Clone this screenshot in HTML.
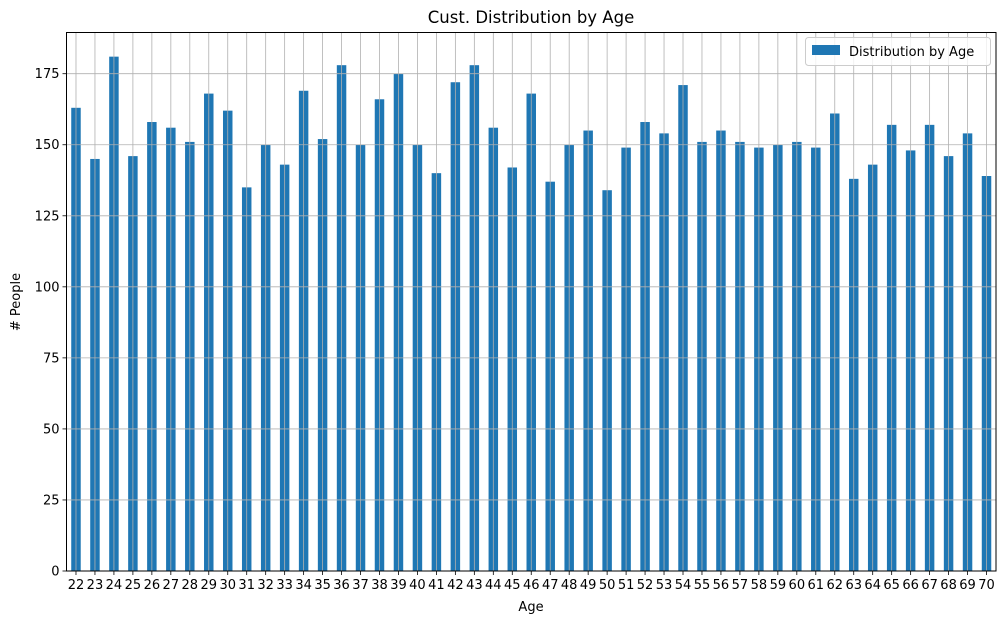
<!DOCTYPE html>
<html><head><meta charset="utf-8"><style>
body{margin:0;background:#fff;}
svg text{font-family:"DejaVu Sans","Liberation Sans",sans-serif;fill:#000;}
</style></head><body>
<svg id="chart" width="1005" height="624" xmlns="http://www.w3.org/2000/svg">
<text x="531" y="23" font-size="16.5" text-anchor="middle">Cust. Distribution by Age</text>
<text x="531" y="611" font-size="13" text-anchor="middle">Age</text>
<text transform="translate(20,302) rotate(-90)" font-size="13" text-anchor="middle"># People</text>
<g id="bars"></g>
<g id="grid"></g>
<g id="ticks"></g>
<rect x="66.5" y="32.5" width="929.5" height="538.5" fill="none" stroke="#000" stroke-width="1"/>
<g>
<rect x="805.5" y="37.5" width="185" height="28" rx="3" fill="#fff" fill-opacity="0.8" stroke="#ccc"/>
<rect x="812" y="45" width="28" height="10" fill="#1f77b4"/>
<text x="849" y="56" font-size="13">Distribution by Age</text>
</g>
</svg>
<script>
const ages=[22,23,24,25,26,27,28,29,30,31,32,33,34,35,36,37,38,39,40,41,42,43,44,45,46,47,48,49,50,51,52,53,54,55,56,57,58,59,60,61,62,63,64,65,66,67,68,69,70];
const counts=[163,145,181,146,158,156,151,168,162,135,150,143,169,152,178,150,166,175,150,140,172,178,156,142,168,137,150,155,134,149,158,154,171,151,155,151,149,150,151,149,161,138,143,157,148,157,146,154,139];
const yTicks=[0,25,50,75,100,125,150,175];
const NS="http://www.w3.org/2000/svg";
const L=66.5,R=996,T=32.5,B=571,yMax=189.5;
const step=(R-L)/ages.length;
const xc=i=>L+step*(i+0.5);
const y=v=>B-(v/yMax)*(B-T);
const bars=document.getElementById('bars'),grid=document.getElementById('grid'),ticks=document.getElementById('ticks');
function mk(tag,attrs,parent){const e=document.createElementNS(NS,tag);for(const k in attrs)e.setAttribute(k,attrs[k]);parent.appendChild(e);return e;}
counts.forEach((v,i)=>{
 const r=mk('rect',{x:xc(i)-step/4,y:y(v),width:step/2,height:B-y(v),fill:'#1f77b4'},bars);
 
 
 const g=mk('line',{x1:xc(i),x2:xc(i),y1:T,y2:B,stroke:'#b0b0b0','stroke-width':0.8},grid);
 
 
 const t=mk('line',{x1:xc(i),x2:xc(i),y1:B,y2:B+4,stroke:'#000','stroke-width':0.8},ticks);
 
 
 const tx=mk('text',{x:xc(i),y:B+18,'font-size':13,'text-anchor':'middle'},ticks);
 tx.textContent=ages[i];
 
 
});
yTicks.forEach(v=>{
 const g=mk('line',{x1:L,x2:R,y1:y(v),y2:y(v),stroke:'#b0b0b0','stroke-width':0.8},grid);
 
 
 const t=mk('line',{x1:L-4,x2:L,y1:y(v),y2:y(v),stroke:'#000','stroke-width':0.8},ticks);
 
 
 const tx=mk('text',{x:L-7,y:y(v)+4.5,'font-size':13,'text-anchor':'end'},ticks);
 tx.textContent=v;
 
 
});
</script>
</body></html>
